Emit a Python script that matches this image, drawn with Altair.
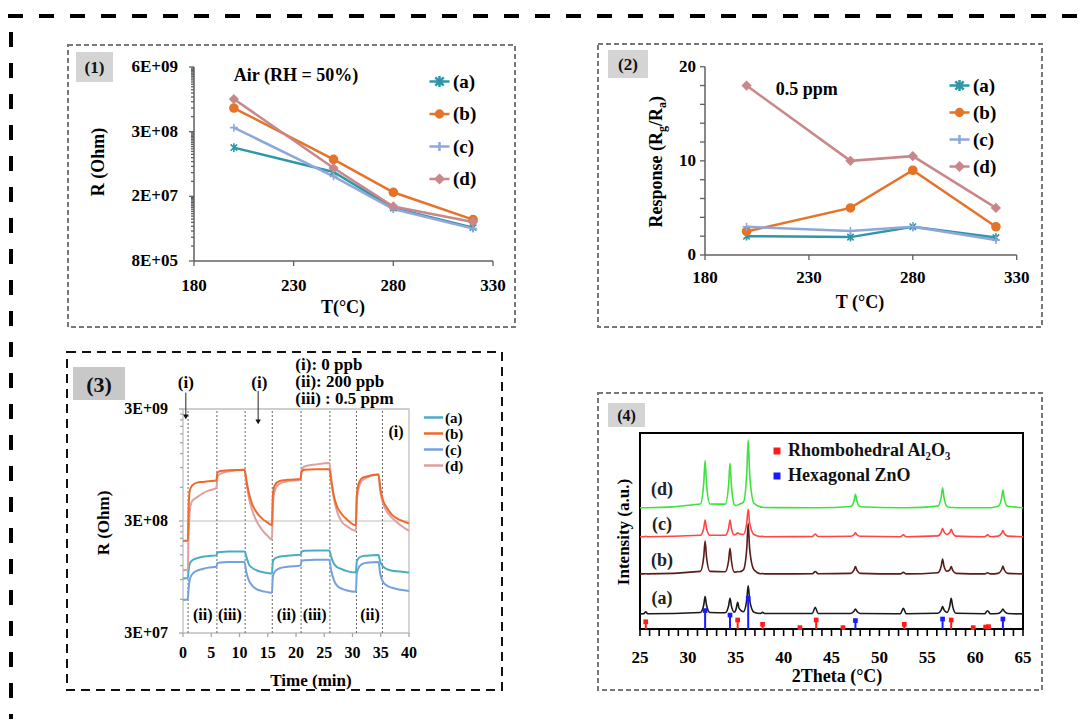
import altair as alt
import pandas as pd

FONT = "Liberation Serif"
W, H = 1070, 711  # drawing canvas = page minus the 8px body margin

SAMPLES = ["(a)", "(b)", "(c)", "(d)"]

# ---------------- Panel (1): resistance in air (RH 50%) vs temperature ----------------
p1_temp = [200, 250, 280, 320]
p1_a = [1.53e8, 4.93e7, 9.3e6, 3.76e6]
p1_b = [9.55e8, 8.88e7, 1.93e7, 5.44e6]
p1_c = [3.85e8, 4.04e7, 8.9e6, 3.59e6]
p1_d = [1.45e9, 5.93e7, 1.0e7, 4.87e6]
p1_xticks = [180, 230, 280, 330]
p1_yticks = [8e5, 1.6e7, 3.2e8, 6.4e9]
p1_ylabels = ["8E+05", "2E+07", "3E+08", "6E+09"]

# ---------------- Panel (2): response at 0.5 ppm vs temperature ----------------
p2_temp = [200, 250, 280, 320]
p2_a = [2.0, 1.9, 3.0, 1.85]
p2_b = [2.5, 5.0, 9.0, 3.0]
p2_c = [3.0, 2.55, 3.0, 1.6]
p2_d = [18.0, 10.0, 10.5, 5.0]
p2_xticks = [180, 230, 280, 330]
p2_yticks = [0, 10, 20]
p2_yminor = [2, 4, 6, 8, 12, 14, 16, 18]

# ---------------- Panel (3): dynamic response (R vs time) ----------------
p3_t = [0, 0.85, 1.0, 1.2, 1.6, 2.5, 3.5, 4.5, 5.9, 6.1, 6.6, 8.0, 10.9, 11.2, 11.6,
        12.2, 13.0, 14.0, 15.0, 15.75, 15.9, 16.2, 17.0, 18.5, 20.8, 21.0, 21.5, 23.5,
        25.9, 26.2, 26.7, 27.3, 28.0, 29.0, 30.6, 30.75, 31.0, 31.6, 32.5, 34.6, 34.9,
        35.4, 36.0, 37.0, 38.5, 40.0]
p3_a = [9.2e7, 9.3e7, 1.1e8, 1.25e8, 1.33e8, 1.40e8, 1.44e8, 1.46e8, 1.48e8, 1.57e8,
        1.59e8, 1.6e8, 1.6e8, 1.45e8, 1.25e8, 1.15e8, 1.09e8, 1.05e8, 1.03e8, 1.02e8,
        1.3e8, 1.38e8, 1.44e8, 1.47e8, 1.5e8, 1.6e8, 1.63e8, 1.64e8, 1.64e8, 1.45e8,
        1.25e8, 1.16e8, 1.12e8, 1.07e8, 1.04e8, 1.3e8, 1.38e8, 1.45e8, 1.47e8, 1.49e8,
        1.3e8, 1.18e8, 1.12e8, 1.08e8, 1.06e8, 1.04e8]
p3_b = [2.0e8, 2.0e8, 4.0e8, 5.6e8, 6.2e8, 6.6e8, 6.7e8, 6.8e8, 6.9e8, 8.1e8,
        8.4e8, 8.5e8, 8.6e8, 7.0e8, 5.5e8, 4.3e8, 3.6e8, 3.15e8, 2.9e8, 2.75e8,
        5.0e8, 6.2e8, 6.8e8, 7.0e8, 7.1e8, 8.3e8, 8.6e8, 8.7e8, 8.7e8, 7.0e8,
        5.0e8, 4.0e8, 3.5e8, 3.1e8, 2.75e8, 5.0e8, 6.2e8, 7.2e8, 7.5e8, 7.8e8,
        6.0e8, 4.6e8, 4.0e8, 3.4e8, 3.05e8, 2.85e8]
p3_c = [5.9e7, 6.0e7, 7.5e7, 9.0e7, 1.0e8, 1.08e8, 1.12e8, 1.15e8, 1.17e8, 1.26e8,
        1.28e8, 1.29e8, 1.29e8, 1.05e8, 9.0e7, 8.0e7, 7.4e7, 7.1e7, 6.95e7, 6.85e7,
        9.5e7, 1.05e8, 1.13e8, 1.17e8, 1.2e8, 1.32e8, 1.34e8, 1.35e8, 1.35e8, 1.1e8,
        8.9e7, 7.9e7, 7.5e7, 7.2e7, 7.0e7, 1.0e8, 1.12e8, 1.23e8, 1.27e8, 1.29e8,
        1.02e8, 8.6e7, 8.0e7, 7.6e7, 7.3e7, 7.1e7]
p3_d = [1.09e8, 1.1e8, 2.2e8, 3.7e8, 4.5e8, 4.9e8, 5.3e8, 5.6e8, 5.9e8, 7.4e8,
        7.9e8, 8.3e8, 8.6e8, 6.8e8, 5.0e8, 3.8e8, 3.0e8, 2.5e8, 2.2e8, 2.05e8,
        4.0e8, 5.5e8, 6.4e8, 6.8e8, 7.0e8, 8.6e8, 9.2e8, 9.6e8, 9.9e8, 7.5e8,
        4.8e8, 3.6e8, 3.0e8, 2.7e8, 2.45e8, 4.5e8, 5.6e8, 6.8e8, 7.3e8, 7.8e8,
        5.6e8, 4.3e8, 3.7e8, 3.2e8, 2.75e8, 2.45e8]
p3_switch = [0.9, 6.0, 11.0, 15.8, 20.9, 26.0, 30.7, 35.3]
p3_xticks = [0, 5, 10, 15, 20, 25, 30, 35, 40]
p3_yticks = [3e7, 3e8, 3e9]
p3_ylabels = ["3E+07", "3E+08", "3E+09"]
p3_key = ["(i): 0 ppb", "(ii): 200 ppb", "(iii) : 0.5 ppm"]
p3_key_r = [7.4e9, 5.2e9, 3.66e9]
p3_phase_text = ["(ii)", "(iii)", "(ii)", "(iii)", "(ii)"]
p3_phase_t = [3.5, 8.3, 18.3, 23.3, 33.1]
p3_arrow_t = [0.5, 13.3]

# ---------------- Panel (4): XRD patterns ----------------
xrd_2theta = [25, 25.4, 25.6, 25.8, 31.3, 31.65, 31.8, 31.95, 32.3, 33.9, 34.25, 34.4,
              34.55, 34.85, 35.05, 35.2, 35.35, 35.8, 36.15, 36.3, 36.45, 36.9, 37.6,
              37.8, 38.0, 43.0, 43.3, 43.6, 47.0, 47.35, 47.5, 47.65, 48.0, 52.2, 52.5,
              52.8, 56.1, 56.45, 56.6, 56.75, 57.05, 57.35, 57.5, 57.65, 58.0, 61.0,
              61.3, 61.6, 62.4, 62.75, 62.9, 63.05, 63.4, 65]
xrd_d = [61.9, 61.9, 61.9, 61.9, 63.8, 73.9, 85.9, 73.9, 63.8, 63.7, 73.2, 84.5, 73.2,
         63.5, 63.0, 63.2, 63.6, 64.7, 79.2, 96.4, 79.2, 64.2, 62.3, 62.1, 62.0, 61.9,
         61.9, 61.9, 62.5, 65.3, 68.7, 65.3, 62.4, 61.9, 61.9, 61.9, 62.7, 67.0, 72.1,
         67.0, 62.6, 62.1, 62.0, 62.0, 61.9, 61.9, 61.9, 61.9, 62.6, 66.4, 70.9, 66.4,
         62.6, 61.9]
xrd_c = [47.1, 47.1, 47.3, 47.1, 47.8, 51.3, 55.6, 51.3, 47.8, 47.8, 51.3, 55.6, 51.3,
         48.0, 48.4, 49.1, 48.6, 48.2, 54.1, 61.1, 54.1, 48.2, 47.2, 47.3, 47.1, 47.2,
         48.5, 47.2, 47.3, 48.1, 49.1, 48.1, 47.3, 47.1, 48.0, 47.1, 47.5, 49.3, 51.4,
         49.5, 48.2, 49.2, 50.9, 49.2, 47.4, 47.1, 48.0, 47.1, 47.4, 48.7, 50.2, 48.7,
         47.4, 47.1]
xrd_b = [28.1, 28.1, 28.2, 28.1, 29.4, 36.5, 44.9, 36.5, 29.4, 29.2, 34.7, 41.2, 34.7,
         29.0, 29.0, 29.3, 29.2, 30.2, 41.0, 53.9, 41.0, 30.2, 28.2, 28.3, 28.1, 28.2,
         29.3, 28.2, 28.4, 30.0, 31.8, 30.0, 28.4, 28.1, 28.9, 28.1, 28.7, 31.9, 35.7,
         32.0, 29.5, 30.2, 31.8, 30.0, 28.4, 28.1, 28.7, 28.1, 28.4, 30.1, 32.1, 30.1,
         28.4, 28.1]
xrd_a = [7.7, 7.8, 8.8, 7.8, 8.4, 12.1, 16.5, 12.1, 8.4, 8.3, 11.7, 15.7, 11.7, 8.6,
         10.5, 13.6, 10.5, 8.8, 14.9, 22.1, 14.9, 8.6, 7.9, 8.5, 7.9, 7.9, 11.1, 7.9,
         7.9, 9.0, 10.2, 9.0, 7.9, 7.8, 10.5, 7.8, 8.0, 9.6, 11.4, 9.8, 8.5, 11.7, 15.7,
         11.7, 8.0, 7.8, 9.3, 7.8, 7.9, 9.0, 10.2, 9.0, 7.9, 7.7]
al2o3_pos = [25.6, 35.2, 37.8, 41.7, 43.4, 46.2, 52.6, 57.5, 59.8, 61.1, 61.4]
al2o3_int = [3.7, 4.6, 2.4, 0.7, 4.6, 0.7, 2.4, 4.6, 0.7, 1.0, 1.2]
zno_pos = [31.8, 34.4, 36.3, 47.5, 56.6, 62.9]
zno_int = [9.4, 7.1, 15.6, 4.3, 5.1, 5.1]
phases = ["Rhombohedral Al\u2082O\u2083", "Hexagonal ZnO"]
p4_label_level = [15.3, 34.8, 53.1, 70.9]   # heights where the (a)..(d) tags sit
p4_xticks = [25, 30, 35, 40, 45, 50, 55, 60, 65]
p4_xdom = [25, 65]
p4_ydom = [0, 100]

# ---------------- styles ----------------
C12 = ["#2e97a7", "#e57328", "#8ea8da", "#c8878a"]
C3 = ["#4bacc6", "#f0692a", "#75a0e0", "#dfa0a0"]
C4 = ["#1a1a1a", "#5c1a1a", "#ff4545", "#3ee23e"]
PHASE_COLORS = ["#ff1a1a", "#1a1aff"]
MARKERS = ["M-0.8,-0.8L0.8,0.8M-0.8,0.8L0.8,-0.8M0,-1.1L0,1.1", "circle",
           "M-1,0L1,0M0,-1L0,1", "diamond"]
LEG_SHAPES = ["M-1,0H1M-0.42,-0.42L0.42,0.42M-0.42,0.42L0.42,-0.42M0,-0.55V0.55",
              "M-1,0H1M0.34,0A0.34,0.34 0 1,1 -0.34,0A0.34,0.34 0 1,1 0.34,0"
              "M0.15,0A0.15,0.15 0 1,1 -0.15,0A0.15,0.15 0 1,1 0.15,0",
              "M-1,0H1M0,-0.45V0.45",
              "M-1,0H1M0,-0.38L0.38,0L0,0.38L-0.38,0ZM0,-0.17L0.17,0L0,0.17L-0.17,0Z"]

one = pd.DataFrame({"k": [0]})


def txt(text, x, y, size, angle=0, align="center", baseline="middle", color="black", dx=0):
    props = dict(fontSize=size, font=FONT, fontWeight="bold", color=color, align=align,
                 baseline=baseline, dx=dx)
    if angle:
        props["angle"] = angle
    return alt.Chart(one).mark_text(**props).encode(
        x=alt.value(x), y=alt.value(y), text=alt.value(text))


def frame_box(x1, y1, x2, y2, color, dash, sw):
    return alt.Chart(one).mark_rect(fill="white", fillOpacity=0, stroke=color,
                                    strokeDash=dash, strokeWidth=sw).encode(
        x=alt.value(x1), x2=alt.value(x2), y=alt.value(y1), y2=alt.value(y2))


def badge(x1, y1, x2, y2, text, size, fill="#d4d4d4"):
    r = alt.Chart(one).mark_rect(fill=fill).encode(
        x=alt.value(x1), x2=alt.value(x2), y=alt.value(y1), y2=alt.value(y2))
    return [r, txt(text, (x1 + x2) / 2, (y1 + y2) / 2 + 1, size, color="#111")]


def x_axis(xs, ticks, labels, y_px, tick_len, label_top, size, color, width=1.3,
           minor=(), minor_len=0, domain=None, domain_w=1.5):
    out = []
    if domain is not None:
        out.append(alt.Chart(pd.DataFrame({"v": [domain[0]], "v2": [domain[1]]})).mark_rule(
            color=color, strokeWidth=domain_w).encode(
            x=alt.X("v:Q", scale=xs, axis=None), x2="v2", y=alt.value(y_px)))
    df = pd.DataFrame({"v": ticks, "label": labels})
    out.append(alt.Chart(df).mark_rule(color=color, strokeWidth=width).encode(
        x=alt.X("v:Q", scale=xs, axis=None), y=alt.value(y_px), y2=alt.value(y_px + tick_len)))
    if len(minor):
        out.append(alt.Chart(pd.DataFrame({"v": list(minor)})).mark_rule(
            color=color, strokeWidth=width).encode(
            x=alt.X("v:Q", scale=xs, axis=None), y=alt.value(y_px), y2=alt.value(y_px + minor_len)))
    out.append(alt.Chart(df).mark_text(fontSize=size, font=FONT, fontWeight="bold",
                                       color="black", align="center", baseline="top").encode(
        x=alt.X("v:Q", scale=xs, axis=None), y=alt.value(label_top), text="label:N"))
    return out


def y_axis(ys, ticks, labels, x_px, tick_len, label_right, size, color, width=1.3,
           minor=(), minor_len=0, domain=None, domain_w=1.5):
    out = []
    if domain is not None:
        out.append(alt.Chart(pd.DataFrame({"v": [domain[0]], "v2": [domain[1]]})).mark_rule(
            color=color, strokeWidth=domain_w).encode(
            y=alt.Y("v:Q", scale=ys, axis=None), y2="v2", x=alt.value(x_px)))
    df = pd.DataFrame({"v": ticks, "label": labels})
    out.append(alt.Chart(df).mark_rule(color=color, strokeWidth=width).encode(
        y=alt.Y("v:Q", scale=ys, axis=None), x=alt.value(x_px - tick_len), x2=alt.value(x_px)))
    if len(minor):
        out.append(alt.Chart(pd.DataFrame({"v": list(minor)})).mark_rule(
            color=color, strokeWidth=width).encode(
            y=alt.Y("v:Q", scale=ys, axis=None), x=alt.value(x_px - minor_len), x2=alt.value(x_px)))
    out.append(alt.Chart(df).mark_text(fontSize=size, font=FONT, fontWeight="bold",
                                       color="black", align="right", baseline="middle").encode(
        y=alt.Y("v:Q", scale=ys, axis=None), x=alt.value(label_right), text="label:N"))
    return out


# ---------- panels (1) and (2) ----------
def tp_panel(vals, temps, xs, ys, leg, note, note_at):
    df = pd.DataFrame([{"T": t, "v": v, "s": s, "col": c, "mk": m}
                       for s, c, m, vs in zip(SAMPLES, C12, MARKERS, vals)
                       for t, v in zip(temps, vs)])
    X = alt.X("T:Q", scale=xs, axis=None)
    Y = alt.Y("v:Q", scale=ys, axis=None)
    lines = alt.Chart(df).mark_line(strokeWidth=2.5).encode(
        x=X, y=Y, color=alt.Color("s:N", scale=alt.Scale(domain=SAMPLES, range=C12), legend=leg))
    legend_shapes = alt.Chart(df).transform_filter("false").mark_point(
        filled=False, strokeWidth=2.5).encode(
        x=X, y=Y, shape=alt.Shape("s:N", scale=alt.Scale(domain=SAMPLES, range=LEG_SHAPES),
                                  legend=None))
    pts = alt.Chart(df).mark_point(filled=True, size=64, strokeWidth=1.6, opacity=1).encode(
        x=X, y=Y, shape=alt.Shape("mk:N", scale=None), fill=alt.Fill("col:N", scale=None),
        stroke=alt.Stroke("col:N", scale=None))
    notes = alt.Chart(pd.DataFrame({"T": [note_at[0]], "v": [note_at[1]], "label": [note]})).mark_text(
        fontSize=18, font=FONT, fontWeight="bold", align="left", baseline="middle",
        color="black").encode(x=X, y=Y, text="label:N")
    return [lines, legend_shapes, pts, notes]


xs1 = alt.Scale(domain=[180, 330], range=[186, 485], nice=False, zero=False)
ys1 = alt.Scale(type="log", base=20, domain=[8e5, 6.4e9], range=[253, 59], nice=False)
p1_minor = [m * k for m in p1_yticks[:-1] for k in range(2, 20)]
leg1 = alt.Legend(orient="none", legendX=420, legendY=62, title=None, padding=0,
                  labelFontSize=19, labelFont=FONT, labelFontWeight="bold", labelColor="black",
                  symbolSize=400, symbolStrokeWidth=2.5, rowPadding=10.5, labelOffset=2)
panel1 = tp_panel([p1_a, p1_b, p1_c, p1_d], p1_temp, xs1, ys1, leg1, "Air (RH = 50%)", (200, 4.3e9))
panel1 += x_axis(xs1, p1_xticks, [str(v) for v in p1_xticks], 253, 5, 270, 17, "#606060",
                 domain=[180, 330])
panel1 += y_axis(ys1, p1_yticks, p1_ylabels, 186, 5, 170, 17, "#606060", minor=p1_minor,
                 minor_len=3, domain=[8e5, 6.4e9])
panel1 += [txt("T(°C)", 335, 300, 18), txt("R (Ohm)", 91, 154, 18, angle=270)]

xs2 = alt.Scale(domain=[180, 330], range=[697, 1008.7], nice=False, zero=False)
ys2 = alt.Scale(domain=[0, 20], range=[247, 58.7], nice=False, zero=False)
leg2 = alt.Legend(orient="none", legendX=940, legendY=66, title=None, padding=0,
                  labelFontSize=19, labelFont=FONT, labelFontWeight="bold", labelColor="black",
                  symbolSize=400, symbolStrokeWidth=2.5, rowPadding=5, labelOffset=2)
panel2 = tp_panel([p2_a, p2_b, p2_c, p2_d], p2_temp, xs2, ys2, leg2, "0.5 ppm", (214, 17.5))
panel2 += x_axis(xs2, p2_xticks, [str(v) for v in p2_xticks], 247, 5, 262, 17, "#606060",
                 domain=[180, 330])
panel2 += y_axis(ys2, p2_yticks, [str(v) for v in p2_yticks], 697, 5, 688, 17, "#606060",
                 minor=p2_yminor, minor_len=5, domain=[0, 20])
panel2 += [txt("T (°C)", 852, 295, 18)]
# rotated title "Response (Rg/Ra)" with real subscripts, written bottom-to-top
resp_pieces = [("Response (R", 18, 0, 0.0), ("g", 12, 5, 95.5), ("/R", 18, 0, 101.5),
               ("a", 12, 5, 119.5), (")", 18, 0, 125.5)]
for text, size, shift, off in resp_pieces:
    panel2.append(txt(text, 649 + shift, 219.5 - off, size, angle=270, align="left"))

# ---------- panel (3) ----------
xs3 = alt.Scale(domain=[0, 40], range=[175, 401], nice=False, zero=False)
ys3 = alt.Scale(type="log", domain=[3e7, 3e9], range=[625, 401], nice=False)
X3 = lambda f: alt.X(f, scale=xs3, axis=None)
Y3 = lambda f: alt.Y(f, scale=ys3, axis=None)
p3_minor = [m * k for m in p3_yticks[:-1] for k in range(2, 10)]
df3 = pd.DataFrame([{"t": t, "R": r, "s": s}
                    for s, rs in zip(["(c)", "(a)", "(d)", "(b)"], [p3_c, p3_a, p3_d, p3_b])
                    for t, r in zip(p3_t, rs)])
frame3 = alt.Chart(pd.DataFrame({"t": [p3_xticks[0]], "t2": [p3_xticks[-1]],
                                 "R": [p3_yticks[0]], "R2": [p3_yticks[-1]]})).mark_rect(
    fill="white", fillOpacity=0, stroke="#bfbfbf", strokeWidth=1.3).encode(
    x=X3("t:Q"), x2="t2", y=Y3("R:Q"), y2="R2")
grid3 = alt.Chart(pd.DataFrame({"t": [p3_xticks[0]], "t2": [p3_xticks[-1]],
                                "R": [p3_yticks[1]]})).mark_rule(
    color="#bfbfbf", strokeWidth=1.2).encode(x=X3("t:Q"), x2="t2", y=Y3("R:Q"))
vl3 = alt.Chart(pd.DataFrame({"t": p3_switch, "R": p3_yticks[0], "R2": p3_yticks[-1]})).mark_rule(
    color="#666666", strokeDash=[2, 2], strokeWidth=1).encode(x=X3("t:Q"), y=Y3("R:Q"), y2="R2")
leg3 = alt.Legend(orient="none", legendX=418, legendY=402, title=None, padding=0,
                  labelFontSize=15, labelFont=FONT, labelFontWeight="bold", labelColor="black",
                  symbolType="M-1.6,0H1.6", symbolSize=144, symbolStrokeWidth=2.5,
                  rowPadding=0, labelOffset=4)
lines3 = alt.Chart(df3).mark_line(strokeWidth=2, interpolate="monotone").encode(
    x=X3("t:Q"), y=Y3("R:Q"),
    color=alt.Color("s:N", scale=alt.Scale(domain=SAMPLES, range=C3), legend=leg3))
txt3_df = pd.DataFrame(
    [{"t": 21.3, "R": r, "label": k} for k, r in zip(p3_key, p3_key_r)]
    + [{"t": t, "R": 5.1e9, "label": "(i)"} for t in [0.5, 13.5]])
txt3 = alt.Chart(txt3_df).mark_text(fontSize=17, font=FONT, fontWeight="bold", align="left",
                                    baseline="middle", color="black", dx=-8).encode(
    x=X3("t:Q"), y=Y3("R:Q"), text="label:N")
txt3b_df = pd.DataFrame([{"t": t, "R": 4.3e7, "label": l} for t, l in zip(p3_phase_t, p3_phase_text)]
                        + [{"t": 37.7, "R": 1.88e9, "label": "(i)"}])
txt3b = alt.Chart(txt3b_df).mark_text(fontSize=16, font=FONT, fontWeight="bold", align="center",
                                      baseline="middle", color="black").encode(
    x=X3("t:Q"), y=Y3("R:Q"), text="label:N")
arr_df = pd.DataFrame({"t": p3_arrow_t, "R": [4.2e9, 4.35e9], "R2": [2.55e9, 2.3e9]})
arr_rule = alt.Chart(arr_df).mark_rule(color="#222", strokeWidth=1).encode(
    x=X3("t:Q"), y=Y3("R:Q"), y2="R2")
arr_head = alt.Chart(arr_df).mark_point(shape="triangle-down", filled=True, size=30,
                                        color="#111", opacity=1).encode(x=X3("t:Q"), y=Y3("R2:Q"))
panel3 = [frame3, grid3, vl3, lines3, txt3, txt3b, arr_rule, arr_head]
panel3 += x_axis(xs3, p3_xticks, [str(v) for v in p3_xticks], 625, 4, 637, 16, "#a6a6a6")
panel3 += y_axis(ys3, p3_yticks, p3_ylabels, 175, 4, 160, 16, "#a6a6a6", minor=p3_minor,
                 minor_len=3)
panel3 += [txt("Time (min)", 303, 673, 17), txt("R (Ohm)", 96, 515, 17, angle=270)]

# ---------- panel (4) ----------
xs4 = alt.Scale(domain=p4_xdom, range=[632, 1015], nice=False, zero=False)
ys4 = alt.Scale(domain=p4_ydom, range=[621, 425], nice=False, zero=False)
X4 = lambda f: alt.X(f, scale=xs4, axis=None)
Y4 = lambda f: alt.Y(f, scale=ys4, axis=None)
df4 = pd.DataFrame([{"x": x, "I": v, "s": s, "col": c}
                    for s, c, vs in zip(SAMPLES, C4, [xrd_a, xrd_b, xrd_c, xrd_d])
                    for x, v in zip(xrd_2theta, vs)])
frame4 = alt.Chart(pd.DataFrame({"x": [p4_xdom[0]], "x2": [p4_xdom[1]],
                                 "I": [p4_ydom[0]], "I2": [p4_ydom[1]]})).mark_rect(
    fill="white", fillOpacity=0, stroke="black", strokeWidth=2).encode(
    x=X4("x:Q"), x2="x2", y=Y4("I:Q"), y2="I2")
lines4 = alt.Chart(df4).mark_line(strokeWidth=1.6, interpolate="monotone").encode(
    x=X4("x:Q"), y=Y4("I:Q"), stroke=alt.Stroke("col:N", scale=None), detail="s:N")
sticks_df = pd.DataFrame([{"x": p, "I": v, "phase": phases[0]} for p, v in zip(al2o3_pos, al2o3_int)]
                         + [{"x": p, "I": v, "phase": phases[1]} for p, v in zip(zno_pos, zno_int)])
sticks_df["I0"] = 0
pscale = alt.Scale(domain=phases, range=PHASE_COLORS)
leg4 = alt.Legend(orient="none", legendX=760, legendY=434, title=None, padding=0,
                  labelFontSize=18, labelFont=FONT, labelFontWeight="bold", labelColor="#111",
                  labelLimit=0, symbolType="square", symbolSize=49, symbolStrokeWidth=0,
                  rowPadding=7, labelOffset=2)
sticks = alt.Chart(sticks_df).mark_rule(strokeWidth=2).encode(
    x=X4("x:Q"), y=Y4("I:Q"), y2="I0", color=alt.Color("phase:N", scale=pscale, legend=leg4))
dots = alt.Chart(sticks_df).mark_square(size=22, opacity=1).encode(
    x=X4("x:Q"), y=Y4("I:Q"), color=alt.Color("phase:N", scale=pscale, legend=leg4))
tags4 = alt.Chart(pd.DataFrame({"x": 27.3, "I": p4_label_level, "label": SAMPLES})).mark_text(
    fontSize=18, font=FONT, fontWeight="bold", color="#222", align="center",
    baseline="middle").encode(x=X4("x:Q"), y=Y4("I:Q"), text="label:N")
panel4 = [frame4, lines4, sticks, dots, tags4]
panel4 += x_axis(xs4, p4_xticks, [str(v) for v in p4_xticks], 621, 7, 642, 17, "black",
                 width=1.6, minor=[v for v in range(26, 65) if v % 5], minor_len=7)
panel4 += [txt("2Theta (°C)", 829, 669, 18), txt("Intensity (a.u.)", 616, 524, 17, angle=270)]

# ---------- decorations (frames, badges) ----------
deco = [
    alt.Chart(one).mark_rule(color="black", strokeWidth=4, strokeDash=[15, 16]).encode(
        x=alt.value(0), x2=alt.value(W), y=alt.value(8)),
    alt.Chart(one).mark_rule(color="black", strokeWidth=4, strokeDash=[15, 16]).encode(
        x=alt.value(3), y=alt.value(24), y2=alt.value(H)),
    frame_box(60, 37, 507, 319, "#777777", [5, 3], 2),
    frame_box(590, 36, 1034, 319, "#777777", [5, 3], 2),
    frame_box(59, 344, 494, 682, "#111111", [9, 6], 2),
    frame_box(590, 385, 1034, 682, "#777777", [5, 3], 2),
]
deco += badge(68, 44, 105, 74, "(1)", 17)
deco += badge(600, 42, 640, 70, "(2)", 17)
deco += badge(65, 359, 117, 392, "(3)", 22, fill="#c8c8c8")
deco += badge(600, 395, 637, 419, "(4)", 16)

chart = alt.layer(
    *deco, alt.layer(*panel1), alt.layer(*panel2), alt.layer(*panel3), alt.layer(*panel4)
).resolve_scale(
    x="independent", y="independent", color="independent", shape="independent"
).properties(
    width=W, height=H, autosize=alt.AutoSizeParams(type="none"), padding=0, background="white"
).configure_view(stroke=None).configure_text(font=FONT, fontWeight="bold")

chart.save("out.html", embed_options={"renderer": "svg", "actions": False})
